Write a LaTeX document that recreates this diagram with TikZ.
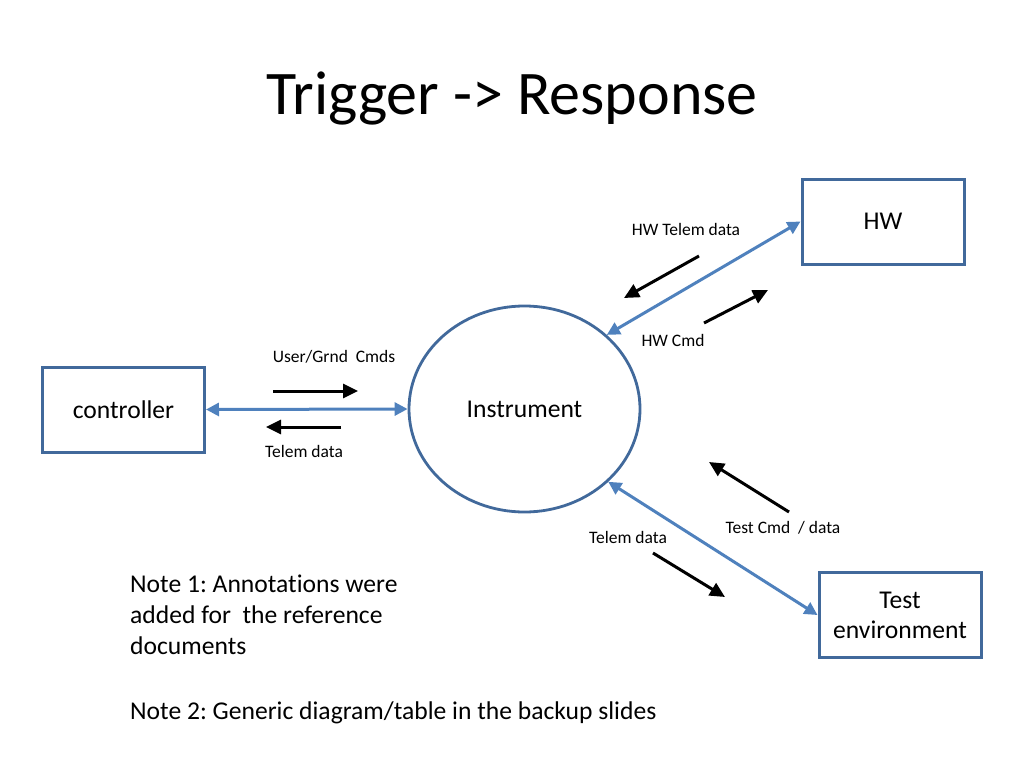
\documentclass[tikz,border=0pt]{standalone}
\usepackage{fontspec}
\setmainfont{Carlito}[Ligatures=NoCommon]
\usetikzlibrary{shapes.geometric}
\usetikzlibrary{arrows.meta}
\frenchspacing

\definecolor{linkblue}{RGB}{79,129,189}
\definecolor{edgeblue}{RGB}{65,105,155}

\newcommand{\fstitle}{\fontsize{62}{74}\selectfont}
\newcommand{\fsbody}{\fontsize{25.6}{31}\selectfont}
\newcommand{\fssmall}{\fontsize{17.5}{21}\selectfont}

\begin{document}
\begin{tikzpicture}[x=1pt, y=-1pt,
		box/.style={draw=edgeblue, line width=3pt, minimum width=162pt, minimum height=85pt, inner sep=0pt, font=\fsbody, align=center},
		link/.style={linkblue, line width=3pt, {Triangle[length=13pt, width=13pt]}-{Triangle[length=13pt, width=13pt]}},
		flow/.style={black, line width=3pt, -{Triangle[length=15pt, width=14pt]}},
		lbl/.style={font=\fssmall, inner sep=0pt}]
		\useasboundingbox (0,0) rectangle (1024,768);

		\node (title) at (512,98) {\fstitle Trigger -> Response};

		% boxes and the instrument
		\node[box] (hw) at (883,221.5) {HW};
		\node[box] (ctrl) at (123.5,409.5) {controller};
		\node[box, text depth=0pt, yshift=-1.5pt] (testenv) at (900,613.5) {Test\\[-1pt]environment};
		\node[ellipse, draw=edgeblue, line width=2.8pt, minimum width=231pt, minimum height=206pt, inner sep=0pt, font=\fsbody] (inst) at (524.5,409) {Instrument};

		% two way links
		\draw[link] (ctrl.east) -- (inst.west);
		\draw[link] (inst.42) -- (hw.west);
		\draw[link] (inst.-41) -- (testenv.west);

		% flow arrows
		\coordinate (cmdA) at (273,391);  \coordinate (cmdB) at (358,391);
		\coordinate (telA) at (341,427);  \coordinate (telB) at (266,427);
		\coordinate (hwtA) at (699,256);  \coordinate (hwtB) at (624,298);
		\coordinate (hwcA) at (704,323);  \coordinate (hwcB) at (768,290);
		\coordinate (tcdA) at (789,512);  \coordinate (tcdB) at (709,462);
		\coordinate (ttlA) at (653,553);  \coordinate (ttlB) at (725,597);
		\draw[flow] (cmdA) -- (cmdB);
		\draw[flow] (telA) -- (telB);
		\draw[flow] (hwtA) -- (hwtB);
		\draw[flow] (hwcA) -- (hwcB);
		\draw[flow] (tcdA) -- (tcdB);
		\draw[flow] (ttlA) -- (ttlB);

		% labels
		\node[lbl] (cmdlbl) at (334,357) {User/Grnd\ \ Cmds};
		\node[lbl] (tellbl) at (304,451) {Telem data};
		\node[lbl] (hwtlbl) at (686,229) {HW Telem data};
		\node[lbl] (hwclbl) at (673,340) {HW Cmd};
		\node[lbl] (tcdlbl) at (783,528) {Test Cmd\ \ / data};
		\node[lbl] (ttllbl) at (628,537) {Telem data};

		% notes
		\node[anchor=west, align=left, font=\fsbody, inner sep=0pt] (note1) at (130,615) {Note 1: Annotations were\\added for\ \ the reference\\documents};
		\node[anchor=west, font=\fsbody, inner sep=0pt] (note2) at (130,713) {Note 2: Generic diagram/table in the backup slides};
	\end{tikzpicture}
\end{document}
